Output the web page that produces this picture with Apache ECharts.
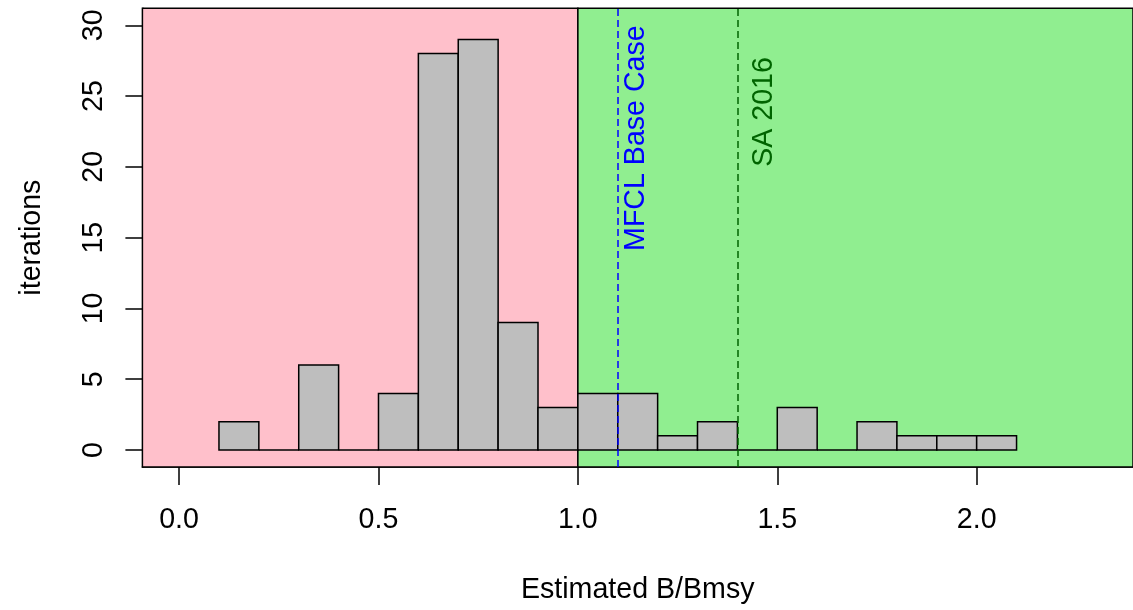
<!DOCTYPE html>
<html>
<head>
<meta charset="utf-8">
<script src="https://cdn.jsdelivr.net/npm/echarts@6/dist/echarts.min.js"></script>
<style>
  html, body { margin: 0; padding: 0; background: #ffffff; }
  #chart { width: 1133px; height: 610px; }
</style>
</head>
<body>
<div id="chart"></div>
<script>
// ---- data ----
const binEdges = [0.1, 0.2, 0.3, 0.4, 0.5, 0.6, 0.7, 0.8, 0.9, 1.0, 1.1, 1.2, 1.3, 1.4, 1.5, 1.6, 1.7, 1.8, 1.9, 2.0, 2.1];
const counts   = [2, 0, 6, 0, 4, 28, 29, 9, 3, 4, 4, 1, 2, 0, 3, 0, 2, 1, 1, 1];
const xTicks = [0, 0.5, 1.0, 1.5, 2.0];
const yTicks = [0, 5, 10, 15, 20, 25, 30];
const threshold = 1.0;
const refLineNames  = ['MFCL Base Case', 'SA 2016'];
const refLineValues = [1.1, 1.4];
const refLabelX = [1.147, 1.467];
const refLabelTopY = [30, 27.75];

// ---- axis limits (R style 4% extension) ----
const xMin = -0.092, xMax = 2.392;
const yMin = -1.2, yMax = 31.2;

const FONT = "'Liberation Sans', Arial, sans-serif";
const FS = 28.6;

const histData = counts.map((c, i) => [binEdges[i], binEdges[i + 1], c]);
const bgData = [[xMin, threshold, 0], [threshold, xMax, 1]];
const bgColors = ['#FFC0CB', '#90EE90'];
const refColors = ['#0000FF', '#006400'];

const chart = echarts.init(document.getElementById('chart'), null, { renderer: 'canvas' });

const option = {
  animation: false,
  backgroundColor: '#ffffff',
  grid: { left: 142.4, top: 8.3, right: -4.8, bottom: 141.5, containLabel: false },
  xAxis: {
    type: 'value', min: xMin, max: xMax,
    name: 'Estimated B/Bmsy', nameLocation: 'middle', nameGap: 109,
    nameTextStyle: { fontFamily: FONT, fontSize: FS, color: '#000' },
    axisLine: { show: true, onZero: false, lineStyle: { color: '#000', width: 1.5 } },
    splitLine: { show: false },
    axisTick: { show: true, inside: false, customValues: xTicks, length: 18, lineStyle: { color: '#000', width: 1.5 } },
    axisLabel: { show: true, customValues: xTicks, margin: 39, fontFamily: FONT, fontSize: FS, color: '#000',
      formatter: v => v.toFixed(1) }
  },
  yAxis: {
    type: 'value', min: yMin, max: yMax,
    name: 'iterations', nameLocation: 'middle', nameGap: 96, nameRotate: 90,
    nameTextStyle: { fontFamily: FONT, fontSize: FS, color: '#000' },
    axisLine: { show: true, onZero: false, lineStyle: { color: '#000', width: 1.5 } },
    splitLine: { show: false },
    axisTick: { show: true, inside: false, customValues: yTicks, length: 17, lineStyle: { color: '#000', width: 1.5 } },
    axisLabel: { show: true, customValues: yTicks, margin: 34, rotate: 90, fontFamily: FONT, fontSize: FS, color: '#000',
      formatter: v => String(v) }
  },
  series: [
    {
      type: 'custom', name: 'bg', z: 1, silent: true,
      data: bgData,
      encode: { x: [0, 1] },
      renderItem: (params, api) => {
        const a = api.coord([api.value(0), yMax]);
        const b = api.coord([api.value(1), yMin]);
        return {
          type: 'rect',
          shape: { x: a[0], y: a[1], width: b[0] - a[0], height: b[1] - a[1] },
          style: { fill: bgColors[api.value(2)], stroke: '#000', lineWidth: 1.5 }
        };
      }
    },
    {
      type: 'custom', name: 'hist', z: 2, silent: true,
      data: histData,
      encode: { x: [0, 1], y: 2 },
      renderItem: (params, api) => {
        const p0 = api.coord([api.value(0), 0]);
        const p1 = api.coord([api.value(1), api.value(2)]);
        return {
          type: 'rect',
          shape: { x: p0[0], y: p1[1], width: p1[0] - p0[0], height: p0[1] - p1[1] },
          style: { fill: '#BEBEBE', stroke: '#000', lineWidth: 1.5 }
        };
      }
    },
    {
      type: 'line', name: 'refs', z: 3, silent: true, data: [],
      markLine: {
        silent: true, symbol: ['none', 'none'], label: { show: false },
        data: refLineValues.map((v, i) => ({ xAxis: v, lineStyle: { color: refColors[i], width: 1.5, type: [7, 4] } }))
      }
    },
    {
      type: 'custom', name: 'labels', z: 4, silent: true,
      data: refLineNames.map((n, i) => [refLabelX[i], refLabelTopY[i], i]),
      encode: { x: 0, y: 1 },
      renderItem: (params, api) => {
        const i = api.value(2);
        const p = api.coord([api.value(0), api.value(1)]);
        return {
          type: 'text', x: p[0], y: p[1], rotation: Math.PI / 2,
          style: { text: refLineNames[i], fill: refColors[i], font: FS + 'px ' + FONT, align: 'right', verticalAlign: 'middle' }
        };
      }
    }
  ]
};
chart.setOption(option);
</script>
</body>
</html>
